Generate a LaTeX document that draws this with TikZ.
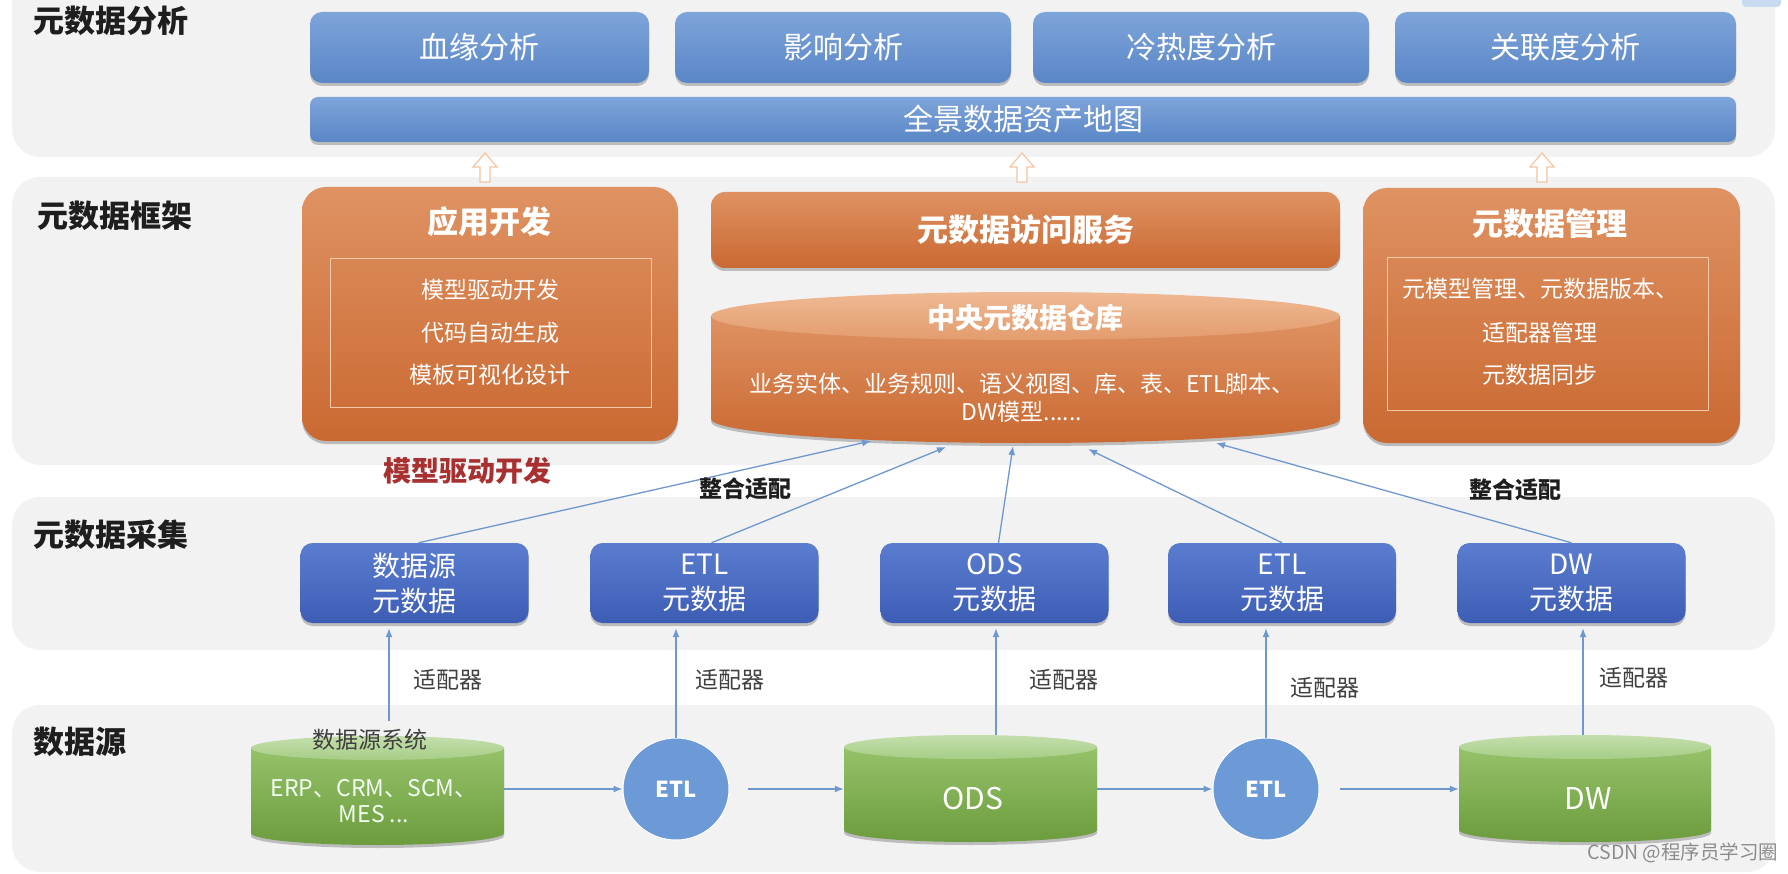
\documentclass[tikz,border=0pt]{standalone}
\usepackage{fontspec}
\setmainfont{Noto Sans CJK SC}
\usetikzlibrary{arrows.meta,shadows,calc}

\definecolor{panelgray}{HTML}{F2F2F2}
\definecolor{anaTop}{HTML}{7EA5DA}
\definecolor{anaBot}{HTML}{5A86C7}
\definecolor{colTop}{HTML}{5A7DD0}
\definecolor{colBot}{HTML}{3D5DB5}
\definecolor{orTop}{HTML}{DF9262}
\definecolor{orBot}{HTML}{CA6932}
\definecolor{orCapTop}{HTML}{EFB994}
\definecolor{orCapBot}{HTML}{E39C6D}
\definecolor{innerline}{HTML}{F4CBA8}
\definecolor{grTop}{HTML}{96C26A}
\definecolor{grBot}{HTML}{6C9C3D}
\definecolor{grCapTop}{HTML}{C4DFAD}
\definecolor{grCapBot}{HTML}{A6CD86}
\definecolor{etlblue}{HTML}{6B9AD6}
\definecolor{linkblue}{HTML}{6F98CF}
\definecolor{hollowline}{HTML}{F3C5A2}
\definecolor{redlabel}{HTML}{A83030}
\definecolor{darktext}{HTML}{1E1E1E}
\definecolor{fragblue}{HTML}{C9DBF1}

\tikzset{
  panel/.style={fill=panelgray, rounded corners=28pt, inner sep=0pt},
  shadowed/.style={drop shadow={shadow xshift=0pt, shadow yshift=-3pt, opacity=0.22, fill=black}},
  anabox/.style={rounded corners=12pt, top color=anaTop, bottom color=anaBot, text=white,
    font=\fontsize{30}{36}\selectfont, inner sep=0pt, shadowed},
  colbox/.style={rounded corners=12pt, top color=colTop, bottom color=colBot, text=white,
    font=\fontsize{28}{35}\selectfont, align=center, inner sep=0pt, shadowed,
    minimum width=228pt, minimum height=80pt},
  orbox/.style={rounded corners=24pt, top color=orTop, bottom color=orBot, text=white,
    font=\fontsize{31}{36}\selectfont\bfseries, inner sep=0pt, shadowed},
  ortitle/.style={text=white, font=\fontsize{31}{36}\selectfont\bfseries, inner sep=0pt},
  innerbox/.style={draw=innerline, line width=0.9pt, inner sep=0pt},
  innertext/.style={text=white, font=\fontsize{23}{28}\selectfont, inner sep=0pt, align=center},
  laylabel/.style={anchor=west, text=darktext, font=\fontsize{31}{36}\selectfont\bfseries, inner sep=0pt},
  cylnode/.style={rectangle, inner sep=0pt},
  orbody/.style={top color=orTop, bottom color=orBot, shadowed},
  orcap/.style={top color=orCapTop, bottom color=orCapBot},
  grbody/.style={top color=grTop, bottom color=grBot, shadowed},
  grcap/.style={top color=grCapTop, bottom color=grCapBot},
  etlnode/.style={ellipse, fill=etlblue, draw=white, line width=1pt, minimum width=106pt, minimum height=102pt,
    text=white, font=\fontsize{22}{26}\selectfont\bfseries, inner sep=0pt},
  link/.style={draw=linkblue, line width=1.3pt, -{Latex[length=9pt,width=7pt]}},
  hollowarr/.style={draw=hollowline, fill=white, line width=1.2pt, line join=miter},
  smalllabel/.style={text=darktext!85, font=\fontsize{23}{28}\selectfont, inner sep=0pt},
  joinlabel/.style={text=darktext, font=\fontsize{23}{28}\selectfont\bfseries, inner sep=0pt},
}

\usetikzlibrary{shapes.geometric}

\newcommand\drawcyl[7]{%
  \pgfmathsetmacro\cylrx{(#2-#1)/2}%
  \pgfmathsetmacro\cylcx{(#2+#1)/2}%
  \path[#6] (#1,#3) -- (#1,#4) arc[start angle=180, end angle=0, x radius=\cylrx, y radius=#5] -- (#2,#3) -- cycle;
  \path[#7] (\cylcx,#3) ellipse[x radius=\cylrx, y radius=#5];
}
\newcommand\hollowup[1]{%
  \draw[hollowarr] (#1-5,182) -- (#1-5,167) -- (#1-12,167) -- (#1,153) -- (#1+12,167) -- (#1+5,167) -- (#1+5,182) -- cycle;
}

\begin{document}
\begin{tikzpicture}[x=1pt,y=-1pt]
\useasboundingbox (0,0) rectangle (1788,874);
\fill[white] (0,0) rectangle (1788,874);

% ---------- panels ----------
\node[panel, minimum width=1763pt, minimum height=200pt] (panA) at (893.5,57) {};
\node[panel, minimum width=1763pt, minimum height=288pt] (panB) at (893.5,321) {};
\node[panel, minimum width=1763pt, minimum height=153pt] (panC) at (893.5,573.5) {};
\node[panel, minimum width=1763pt, minimum height=167pt] (panD) at (893.5,788.5) {};
\fill[fragblue, rounded corners=4pt] (1742,-10) rectangle (1781,7);

% ---------- layer labels ----------
\node[laylabel] (labA) at (33,21) {元数据分析};
\node[laylabel] (labB) at (37,216) {元数据框架};
\node[laylabel] (labC) at (33,535) {元数据采集};
\node[laylabel] (labD) at (33,742) {数据源};

% ---------- analysis layer ----------
\node[anabox, minimum width=339pt, minimum height=71pt] (ana1) at (479.5,47.5) {血缘分析};
\node[anabox, minimum width=336pt, minimum height=71pt] (ana2) at (843,47.5) {影响分析};
\node[anabox, minimum width=336pt, minimum height=71pt] (ana3) at (1201,47.5) {冷热度分析};
\node[anabox, minimum width=341pt, minimum height=71pt] (ana4) at (1565.5,47.5) {关联度分析};
\node[anabox, rounded corners=8pt, minimum width=1426pt, minimum height=45pt] (map) at (1023,119.5) {全景数据资产地图};

\hollowup{485}
\hollowup{1022}
\hollowup{1542}

% ---------- framework layer ----------
\node[orbox, minimum width=376pt, minimum height=254pt] (app) at (490,314) {};
\node[ortitle] (appT) at (489,222) {应用开发};
\node[innerbox, minimum width=321pt, minimum height=149pt] (appIn) at (490.5,332.5) {};
\node[innertext] (app1) at (490,290) {模型驱动开发};
\node[innertext] (app2) at (490,333) {代码自动生成};
\node[innertext] (app3) at (490,375) {模板可视化设计};

\node[orbox, rounded corners=14pt, minimum width=629pt, minimum height=76pt] (acc) at (1025.5,230) {元数据访问服务};

\node[cylnode, minimum width=629pt, minimum height=151pt] (wh) at (1025.5,367.5) {};
\drawcyl{711}{1340}{316}{419}{24}{orbody}{orcap}
\node[ortitle, font=\fontsize{28}{32}\selectfont\bfseries] (whT) at (1025,318) {中央元数据仓库};
\node[innertext] (whL) at (1022,398) {业务实体、业务规则、语义视图、库、表、ETL脚本、\\DW模型......};

\node[orbox, minimum width=377pt, minimum height=255pt] (mgmt) at (1551.5,315.5) {};
\node[ortitle] (mgmtT) at (1550,224) {元数据管理};
\node[innerbox, minimum width=321pt, minimum height=153pt] (mgmtIn) at (1547.5,333.5) {};
\node[innertext] (mg1) at (1540,289) {元模型管理、元数据版本、};
\node[innertext] (mg2) at (1540,333) {适配器管理};
\node[innertext] (mg3) at (1540,375) {元数据同步};

\node[text=redlabel, font=\fontsize{28}{32}\selectfont\bfseries, inner sep=0pt] (mdd) at (467,471) {模型驱动开发};

% ---------- collection layer ----------
\node[colbox] (c1) at (414.5,583) {数据源\\元数据};
\node[colbox] (c2) at (704.5,583) {ETL\\元数据};
\node[colbox] (c3) at (994.5,583) {ODS\\元数据};
\node[colbox] (c4) at (1282,583) {ETL\\元数据};
\node[colbox] (c5) at (1571.5,583) {DW\\元数据};

\coordinate (wh1) at (871,441);
\coordinate (wh2) at (946,447);
\coordinate (wh3) at (1013,446);
\coordinate (wh4) at (1088,449);
\coordinate (wh5) at (1216,443);
\draw[link] (c1.north) ++(4,0) -- (wh1);
\draw[link] (c2.north) ++(7,0) -- (wh2);
\draw[link] (c3.north) ++(4,0) -- (wh3);
\draw[link] (c4.north) -- (wh4);
\draw[link] (c5.north) -- (wh5);

\node[joinlabel] (ja1) at (745,489) {整合适配};
\node[joinlabel] (ja2) at (1515,490) {整合适配};

% ---------- data source layer ----------
\node[cylnode, minimum width=253pt, minimum height=109pt] (src) at (377.5,790.5) {};
\drawcyl{251}{504}{748}{833}{12}{grbody}{grcap}
\node[text=darktext!85, font=\fontsize{23}{28}\selectfont, inner sep=0pt] (srcT) at (370,740) {数据源系统};
\node[innertext, text=white!95!green, font=\fontsize{23}{26}\selectfont] (srcL) at (374,801) {ERP、CRM、SCM、\\MES ...};

\node[etlnode] (etl1) at (676,789) {ETL};

\node[cylnode, minimum width=253pt, minimum height=107pt] (ods) at (970.5,788.5) {};
\drawcyl{844}{1097}{747}{830}{12}{grbody}{grcap}
\node[text=white, font=\fontsize{30}{34}\selectfont, inner sep=0pt] (odsT) at (973,798) {ODS};

\node[etlnode] (etl2) at (1266,789) {ETL};

\node[cylnode, minimum width=252pt, minimum height=107pt] (dw) at (1585,788.5) {};
\drawcyl{1459}{1711}{747}{830}{12}{grbody}{grcap}
\node[text=white, font=\fontsize{30}{34}\selectfont, inner sep=0pt] (dwT) at (1588,798) {DW};

% horizontal flow
\draw[link] (etl1.west -| src.east) -- (etl1.west);
\draw[link, shorten <=18pt] (etl1.east) -- (etl1.east -| ods.west);
\draw[link] (etl2.west -| ods.east) -- (etl2.west);
\draw[link, shorten <=20pt] (etl2.east) -- (etl2.east -| dw.west);

% adapters (vertical)
\coordinate (s1) at (389,721);
\coordinate (s3) at (996,735);
\coordinate (s5) at (1583,735);
\draw[link, shorten >=5pt] (s1) -- (s1 |- c1.south);
\draw[link, shorten >=5pt] (etl1.north) -- (etl1.north |- c2.south);
\draw[link, shorten >=5pt] (s3) -- (s3 |- c3.south);
\draw[link, shorten >=5pt] (etl2.north) -- (etl2.north |- c4.south);
\draw[link, shorten >=5pt] (s5) -- (s5 |- c5.south);

\node[smalllabel] (ad1) at (448,680) {适配器};
\node[smalllabel] (ad2) at (730,680) {适配器};
\node[smalllabel] (ad3) at (1064,680) {适配器};
\node[smalllabel] (ad4) at (1325,688) {适配器};
\node[smalllabel] (ad5) at (1634,678) {适配器};

\node[text=black!45, font=\fontsize{19.5}{24}\selectfont, inner sep=0pt] (wm) at (1683,853) {CSDN @程序员学习圈};
\end{tikzpicture}
\end{document}
